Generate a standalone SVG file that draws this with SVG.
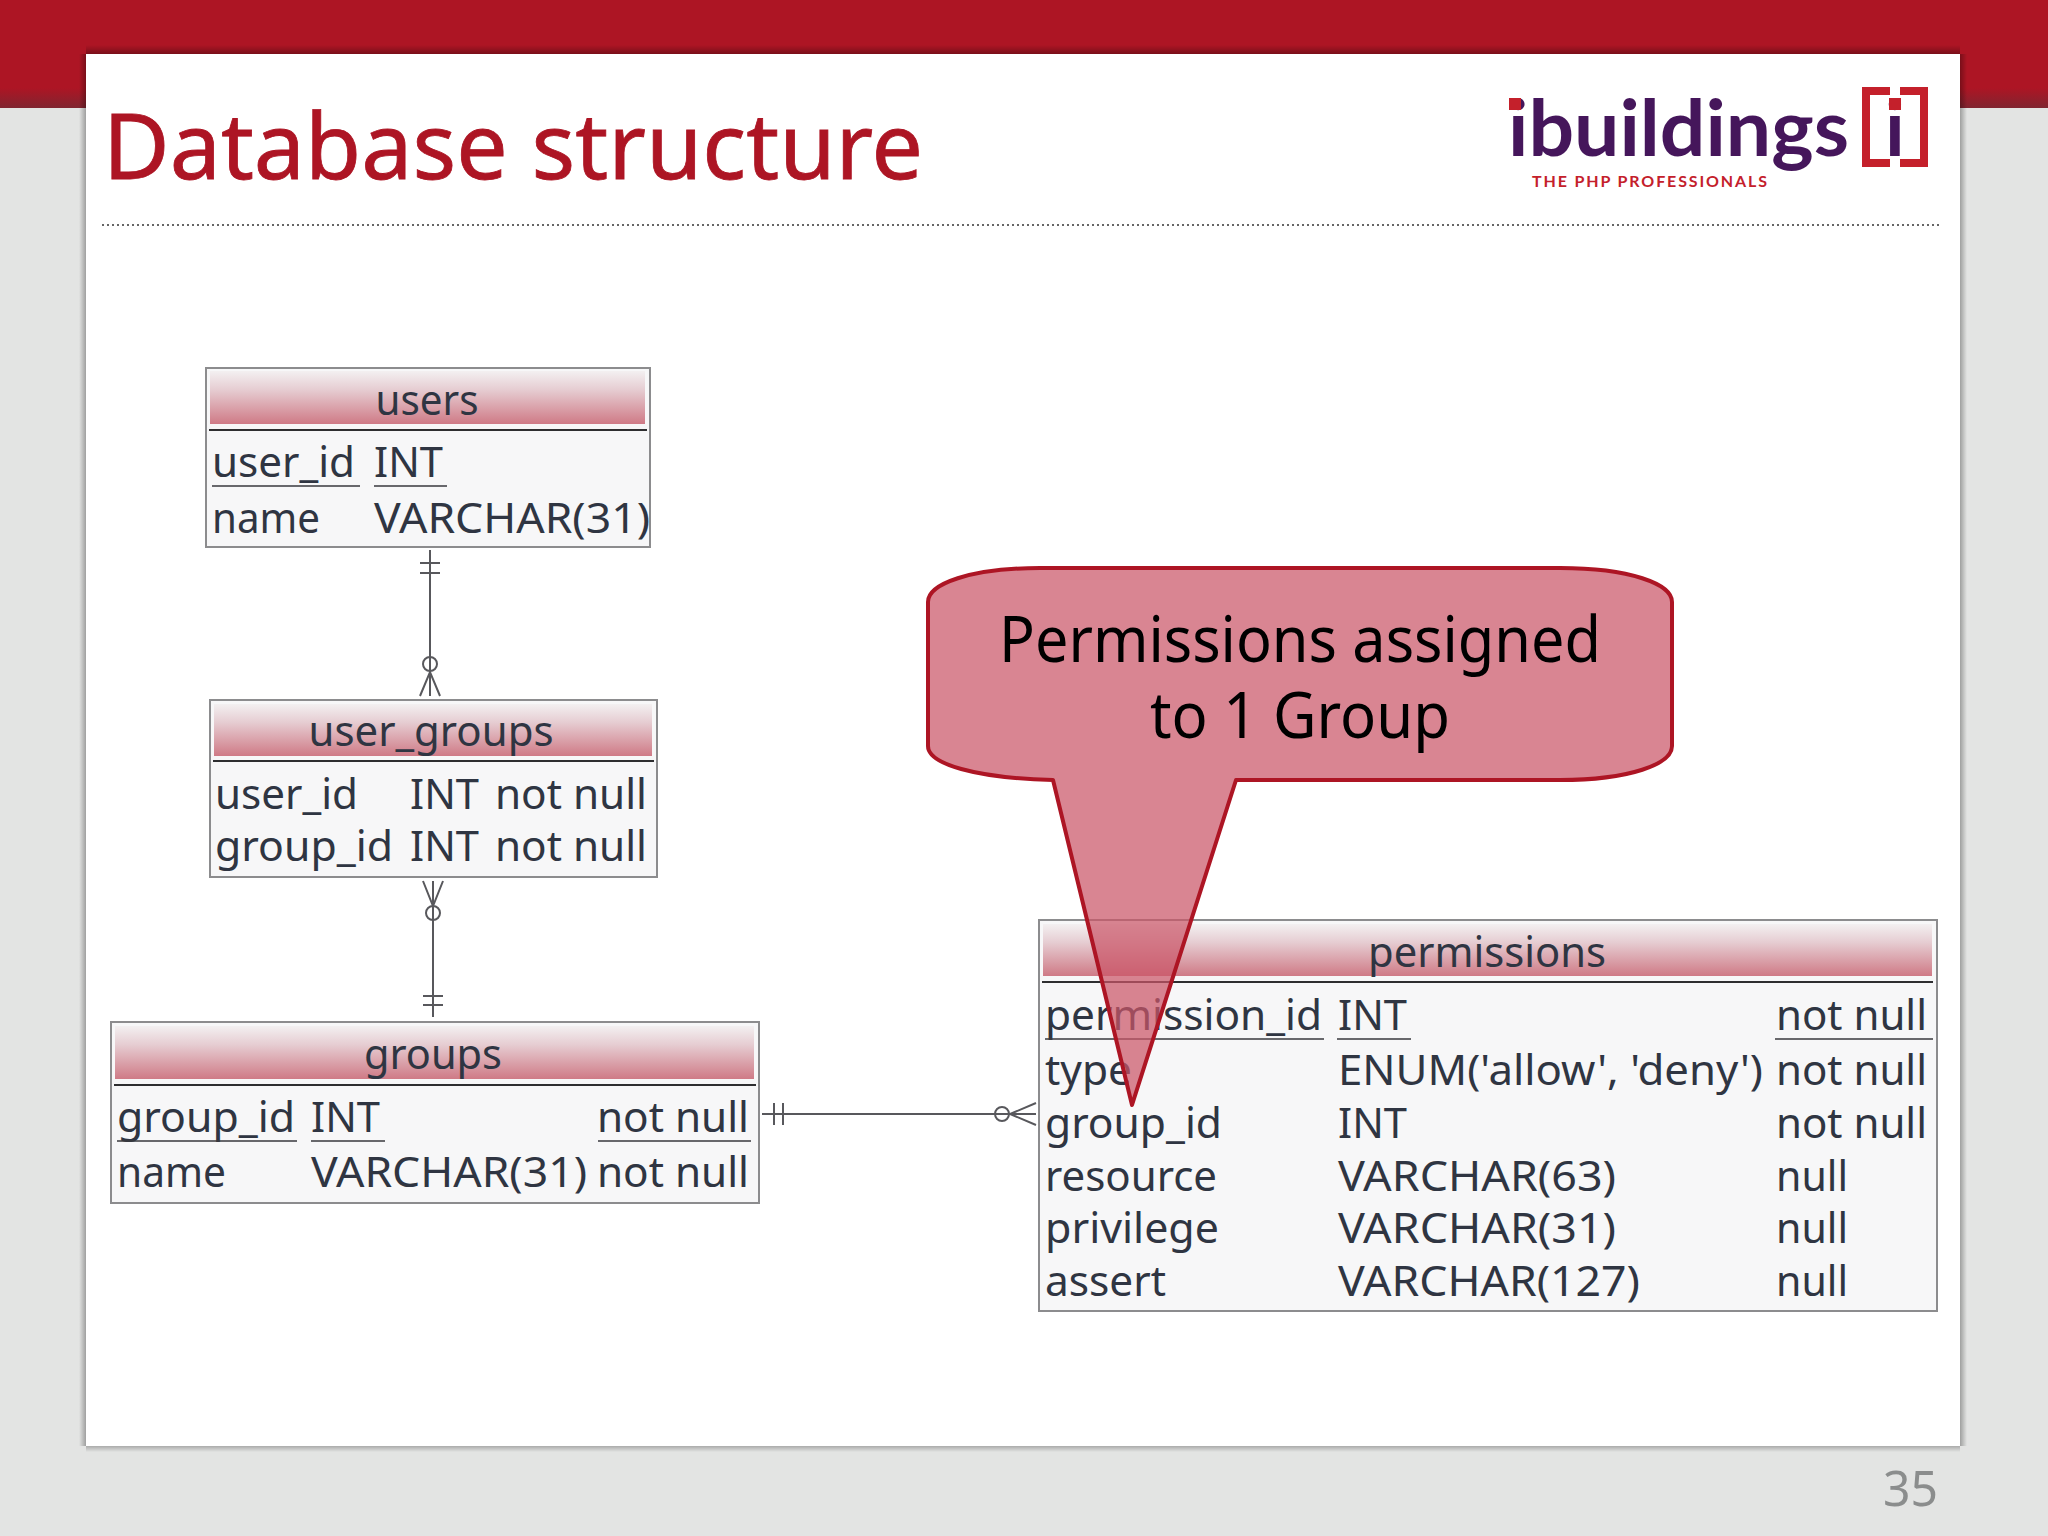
<svg xmlns="http://www.w3.org/2000/svg" width="2048" height="1536" viewBox="0 0 2048 1536">
<style>
text{font-family:"Noto Sans","Open Sans","DejaVu Sans",sans-serif}
.c{font-size:41px;fill:#2f3542}
.h{font-size:41px;fill:#2f3542;text-anchor:middle}
.box{fill:#f7f7f8;stroke:#8c8c8e;stroke-width:2}
.sep{stroke:#2e2e30;stroke-width:2}
.u{stroke:#3a3a3e;stroke-width:1.5}
.cn{fill:none;stroke:#58585c;stroke-width:2}
</style>
<defs>
<linearGradient id="hd" x1="0" y1="0" x2="0" y2="1"><stop offset="0" stop-color="#f3f0f1"/><stop offset="0.35" stop-color="#e6cdd2"/><stop offset="1" stop-color="#cf7a86"/></linearGradient>
<linearGradient id="bandshade" x1="0" y1="0" x2="0" y2="1"><stop offset="0" stop-color="#ad1524"/><stop offset="1" stop-color="#802530"/></linearGradient>
<linearGradient id="sl" x1="0" y1="0" x2="1" y2="0"><stop offset="0" stop-color="#000" stop-opacity="0"/><stop offset="1" stop-color="#000" stop-opacity="0.3"/></linearGradient>
<linearGradient id="sr" x1="1" y1="0" x2="0" y2="0"><stop offset="0" stop-color="#000" stop-opacity="0"/><stop offset="1" stop-color="#000" stop-opacity="0.3"/></linearGradient>
<linearGradient id="st" x1="0" y1="0" x2="0" y2="1"><stop offset="0" stop-color="#000" stop-opacity="0"/><stop offset="1" stop-color="#000" stop-opacity="0.3"/></linearGradient>
<linearGradient id="sb" x1="0" y1="1" x2="0" y2="0"><stop offset="0" stop-color="#000" stop-opacity="0"/><stop offset="1" stop-color="#000" stop-opacity="0.25"/></linearGradient>
</defs>
<g id="slide">
<rect width="2048" height="1536" fill="#e3e4e3"/>
<rect width="2048" height="108" fill="#ad1524"/>
<rect y="88" width="2048" height="20" fill="url(#bandshade)"/>
<rect x="79" y="54" width="7" height="1392" fill="url(#sl)"/>
<rect x="1960" y="54" width="7" height="1392" fill="url(#sr)"/>
<rect x="86" y="45" width="1874" height="9" fill="url(#st)"/>
<rect x="86" y="1446" width="1874" height="6" fill="url(#sb)"/>
<rect x="86" y="54" width="1874" height="1392" fill="#fff"/>
<text x="103" y="179" font-size="92" fill="#ad1524" stroke="#ad1524" stroke-width="0.8" textLength="820" lengthAdjust="spacingAndGlyphs">Database structure</text>
<line x1="102" y1="225" x2="1941" y2="225" stroke="#666" stroke-width="2" stroke-dasharray="2 3"/>
<text x="1883" y="1506" font-size="50" fill="#8b8d8d" textLength="55" lengthAdjust="spacingAndGlyphs">35</text>
</g>
<g id="logo">
<text x="1508" y="156" font-size="78" font-weight="700" fill="#45165b" style="font-family:Lato,'Noto Sans',sans-serif" textLength="341" lengthAdjust="spacingAndGlyphs">ibuildings</text>
<rect x="1509" y="98" width="12" height="12" fill="#c4202b"/>
<text x="1532" y="187" font-size="16" font-weight="700" fill="#c4202b" style="font-family:Lato,'Noto Sans',sans-serif" textLength="235" lengthAdjust="spacing">THE PHP PROFESSIONALS</text>
<path d="M1890 91H1866V163H1890M1900 91H1924V163H1900" fill="none" stroke="#c4202b" stroke-width="8"/>
<text x="1895" y="156" font-size="78" font-weight="700" fill="#45165b" text-anchor="middle" style="font-family:Lato,'Noto Sans',sans-serif">i</text>
<rect x="1889" y="98" width="12" height="12" fill="#c4202b"/>
</g>
<g id="connectors">
<path class="cn" d="M430 550V672M420 563H440M420 573H440M420 696L430 672L440 696M430 672V696"/>
<circle class="cn" cx="430" cy="664" r="7"/>
<path class="cn" d="M433 881V1017M423 996H443M423 1005H443M423 881L433 906L443 881M433 881V906"/>
<circle class="cn" cx="433" cy="913" r="7"/>
<path class="cn" d="M762 1114H1036M774 1103V1125M783 1103V1125M1036 1103L1010 1114L1036 1125"/>
<circle class="cn" cx="1002" cy="1114" r="7"/>
</g>
<g id="users">
<rect class="box" x="206" y="368" width="444" height="179"/>
<rect x="210" y="371" width="435" height="53" fill="url(#hd)"/>
<line class="sep" x1="209" y1="430" x2="647" y2="430"/>
<text class="h" x="427" y="415" textLength="103" lengthAdjust="spacingAndGlyphs">users</text>
<text class="c" x="212" y="477" textLength="143" lengthAdjust="spacingAndGlyphs">user_id</text>
<text class="c" x="374" y="477" textLength="69" lengthAdjust="spacingAndGlyphs">INT</text>
<text class="c" x="212" y="533" textLength="108" lengthAdjust="spacingAndGlyphs">name</text>
<text class="c" x="374" y="533" textLength="276" lengthAdjust="spacingAndGlyphs">VARCHAR(31)</text>
<path class="u" d="M212 486H360M374 486H447"/>
</g>
<g id="user_groups">
<rect class="box" x="210" y="700" width="447" height="177"/>
<rect x="214" y="704" width="438" height="52" fill="url(#hd)"/>
<line class="sep" x1="213" y1="761" x2="654" y2="761"/>
<text class="h" x="431" y="746" textLength="245" lengthAdjust="spacingAndGlyphs">user_groups</text>
<text class="c" x="215" y="809" textLength="143" lengthAdjust="spacingAndGlyphs">user_id</text>
<text class="c" x="410" y="809" textLength="69" lengthAdjust="spacingAndGlyphs">INT</text>
<text class="c" x="495" y="809" textLength="152" lengthAdjust="spacingAndGlyphs">not null</text>
<text class="c" x="215" y="861" textLength="178" lengthAdjust="spacingAndGlyphs">group_id</text>
<text class="c" x="410" y="861" textLength="69" lengthAdjust="spacingAndGlyphs">INT</text>
<text class="c" x="495" y="861" textLength="152" lengthAdjust="spacingAndGlyphs">not null</text>
</g>
<g id="groups">
<rect class="box" x="111" y="1022" width="648" height="181"/>
<rect x="115" y="1026" width="639" height="53" fill="url(#hd)"/>
<line class="sep" x1="114" y1="1085" x2="756" y2="1085"/>
<text class="h" x="433" y="1069" textLength="138" lengthAdjust="spacingAndGlyphs">groups</text>
<text class="c" x="117" y="1132" textLength="178" lengthAdjust="spacingAndGlyphs">group_id</text>
<text class="c" x="311" y="1132" textLength="69" lengthAdjust="spacingAndGlyphs">INT</text>
<text class="c" x="597" y="1132" textLength="152" lengthAdjust="spacingAndGlyphs">not null</text>
<text class="c" x="117" y="1187" textLength="109" lengthAdjust="spacingAndGlyphs">name</text>
<text class="c" x="311" y="1187" textLength="276" lengthAdjust="spacingAndGlyphs">VARCHAR(31)</text>
<text class="c" x="597" y="1187" textLength="152" lengthAdjust="spacingAndGlyphs">not null</text>
<path class="u" d="M117 1141H297M311 1141H385M598 1141H751"/>
</g>
<g id="permissions">
<rect class="box" x="1039" y="920" width="898" height="391"/>
<rect x="1043" y="924" width="889" height="52" fill="url(#hd)"/>
<line class="sep" x1="1042" y1="982" x2="1933" y2="982"/>
<text class="h" x="1487" y="967" textLength="238" lengthAdjust="spacingAndGlyphs">permissions</text>
<text class="c" x="1045" y="1030" textLength="277" lengthAdjust="spacingAndGlyphs">permission_id</text>
<text class="c" x="1338" y="1030" textLength="69" lengthAdjust="spacingAndGlyphs">INT</text>
<text class="c" x="1776" y="1030" textLength="151" lengthAdjust="spacingAndGlyphs">not null</text>
<text class="c" x="1045" y="1085" textLength="87" lengthAdjust="spacingAndGlyphs">type</text>
<text class="c" x="1338" y="1085" textLength="425" lengthAdjust="spacingAndGlyphs">ENUM('allow', 'deny')</text>
<text class="c" x="1776" y="1085" textLength="151" lengthAdjust="spacingAndGlyphs">not null</text>
<text class="c" x="1045" y="1138" textLength="177" lengthAdjust="spacingAndGlyphs">group_id</text>
<text class="c" x="1338" y="1138" textLength="69" lengthAdjust="spacingAndGlyphs">INT</text>
<text class="c" x="1776" y="1138" textLength="151" lengthAdjust="spacingAndGlyphs">not null</text>
<text class="c" x="1045" y="1191" textLength="172" lengthAdjust="spacingAndGlyphs">resource</text>
<text class="c" x="1338" y="1191" textLength="278" lengthAdjust="spacingAndGlyphs">VARCHAR(63)</text>
<text class="c" x="1776" y="1191" textLength="72" lengthAdjust="spacingAndGlyphs">null</text>
<text class="c" x="1045" y="1243" textLength="174" lengthAdjust="spacingAndGlyphs">privilege</text>
<text class="c" x="1338" y="1243" textLength="278" lengthAdjust="spacingAndGlyphs">VARCHAR(31)</text>
<text class="c" x="1776" y="1243" textLength="72" lengthAdjust="spacingAndGlyphs">null</text>
<text class="c" x="1045" y="1296" textLength="121" lengthAdjust="spacingAndGlyphs">assert</text>
<text class="c" x="1338" y="1296" textLength="302" lengthAdjust="spacingAndGlyphs">VARCHAR(127)</text>
<text class="c" x="1776" y="1296" textLength="72" lengthAdjust="spacingAndGlyphs">null</text>
<path class="u" d="M1045 1039H1324M1337 1039H1411M1775 1039H1933"/>
</g>
<g id="callout">
<path d="M1040 568H1560C1630 568 1672 584 1672 602V746C1672 764 1630 780 1560 780H1236L1132 1105L1053 780C975 778 928 764 928 746V602C928 584 970 568 1040 568Z" fill="#ca5668" fill-opacity="0.72" stroke="#ad1524" stroke-width="4" stroke-linejoin="round"/>
<text x="1300" y="662" font-size="64" fill="#000" text-anchor="middle" textLength="602" lengthAdjust="spacingAndGlyphs">Permissions assigned</text>
<text x="1300" y="738" font-size="64" fill="#000" text-anchor="middle" textLength="300" lengthAdjust="spacingAndGlyphs">to 1 Group</text>
</g>
</svg>
